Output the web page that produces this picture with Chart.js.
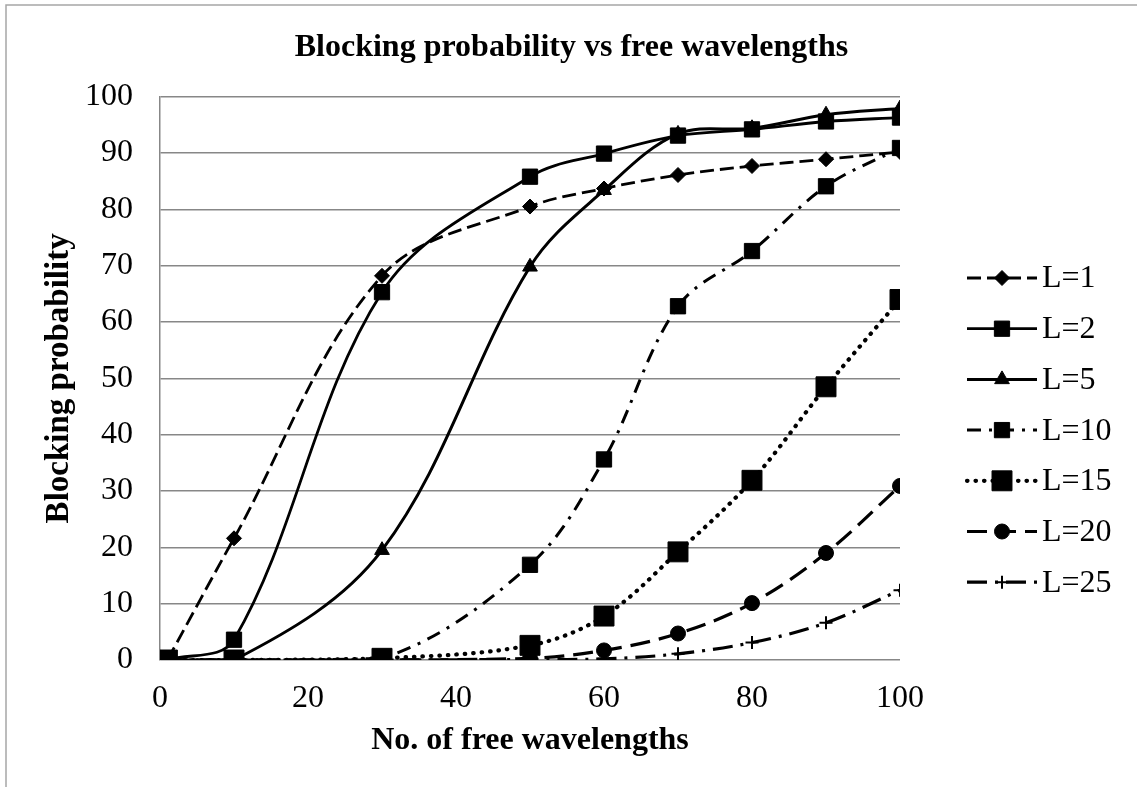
<!DOCTYPE html>
<html>
<head>
<meta charset="utf-8">
<title>Blocking probability vs free wavelengths</title>
<script src="https://cdn.jsdelivr.net/npm/chart.js@4.4.1/dist/chart.umd.min.js"></script>
<style>
  html, body { margin: 0; padding: 0; background: #ffffff; }
  #wrap { position: relative; width: 1137px; height: 787px; }
</style>
</head>
<body>
<div id="wrap"><canvas id="blockingChart"></canvas></div>
<script>
// x values (number of free wavelengths) shared by every series
const freeWavelengths = [1, 10, 30, 50, 60, 70, 80, 90, 100];

// blocking probability for each L
const blockL1  = [0, 21.6, 68.2, 80.5, 83.7, 86.1, 87.7, 88.9, 90.2];
const blockL2  = [0, 3.6, 65.3, 85.8, 89.9, 93.1, 94.2, 95.6, 96.3];
const blockL5  = [0, 0, 19.5, 69.8, 83.4, 93.4, 94.4, 96.8, 97.9];
const blockL10 = [0, 0, 0.3, 16.9, 35.6, 62.8, 72.6, 84.1, 90.9];
const blockL15 = [0, 0, 0.3, 2.6, 7.8, 19.2, 31.9, 48.5, 64.0];
const blockL20 = [0, 0, 0, 0.3, 1.7, 4.7, 10.1, 19.0, 30.9];
const blockL25 = [0, 0, 0, 0.1, 0.2, 1.1, 3.1, 6.6, 12.4];

const seriesLabels = ['L=1', 'L=2', 'L=5', 'L=10', 'L=15', 'L=20', 'L=25'];

// axis tick values
const xTickValues = [0, 20, 40, 60, 80, 100];
const yTickValues = [0, 10, 20, 30, 40, 50, 60, 70, 80, 90, 100];

const SERIF = "'Liberation Serif', 'Times New Roman', serif";
const GRID_GREY = '#878787';
const FONT_SIZE = 32;

function toPoints(ys) {
    return freeWavelengths.map((x, i) => ({ x: x, y: ys[i] }));
}

// line / marker look of each series, in the same order as seriesLabels
const seriesStyles = [
    { data: blockL1,  dash: [14, 6],        width: 2.8, point: 'rectRot',  radius: 7.5 },
    { data: blockL2,  dash: [],             width: 2.8, point: 'rect',     radius: 10.8 },
    { data: blockL5,  dash: [],             width: 3,   point: 'triangle', radius: 8.5 },
    { data: blockL10, dash: [14, 8, 3, 8],  width: 3,   point: 'rect',     radius: 10.8 },
    { data: blockL15, dash: [0.5, 8],       width: 4.2, point: 'rect',     radius: 14.1, cap: 'round' },
    { data: blockL20, dash: [20, 9],        width: 3.2, point: 'circle',   radius: 7.5 },
    { data: blockL25, dash: [20, 8, 3, 8],  width: 3.2, point: 'cross',    radius: 6.5 }
];

const datasets = seriesStyles.map((s, i) => ({
    label: seriesLabels[i],
    data: toPoints(s.data),
    showLine: true,
    borderColor: '#000000',
    backgroundColor: '#000000',
    borderWidth: s.width,
    borderDash: s.dash,
    borderCapStyle: s.cap || 'butt',
    tension: 0.35,
    pointStyle: s.point,
    pointRadius: s.radius,
    pointHoverRadius: s.radius,
    pointBackgroundColor: '#000000',
    pointBorderColor: '#000000',
    pointBorderWidth: s.point === 'cross' ? 2 : 1,
    order: seriesStyles.length - i
}));

// thin grey frame along the top and left edge of the canvas
const framePlugin = {
    id: 'frame',
    beforeDraw(chart) {
        const ctx = chart.ctx;
        ctx.save();
        ctx.strokeStyle = '#a6a6a6';
        ctx.lineWidth = 1.5;
        ctx.beginPath();
        ctx.moveTo(6, chart.height);
        ctx.lineTo(6, 5);
        ctx.lineTo(chart.width, 5);
        ctx.stroke();
        ctx.restore();
    }
};

// legend on the right: line sample with marker, then the label
const sideLegendPlugin = {
    id: 'sideLegend',
    afterDraw(chart) {
        const ctx = chart.ctx;
        const lineStart = chart.chartArea.right + 67;
        const lineEnd = lineStart + 70;
        const textX = lineEnd + 5;
        const firstRow = 278;
        const rowGap = 50.7;
        ctx.save();
        chart.data.datasets.forEach((ds, i) => {
            const y = firstRow + i * rowGap;
            ctx.strokeStyle = ds.borderColor;
            ctx.lineWidth = ds.borderWidth;
            ctx.lineCap = ds.borderCapStyle;
            ctx.setLineDash(ds.borderDash);
            ctx.beginPath();
            ctx.moveTo(lineStart, y);
            ctx.lineTo(lineEnd, y);
            ctx.stroke();
            ctx.setLineDash([]);
            ctx.fillStyle = ds.pointBackgroundColor;
            ctx.lineWidth = ds.pointBorderWidth;
            ctx.lineCap = 'butt';
            Chart.helpers.drawPoint(ctx, {
                pointStyle: ds.pointStyle,
                radius: ds.pointRadius,
                rotation: 0,
                borderWidth: ds.pointBorderWidth
            }, (lineStart + lineEnd) / 2, y);
            ctx.fillStyle = '#000000';
            ctx.font = FONT_SIZE + 'px ' + SERIF;
            ctx.textAlign = 'left';
            ctx.textBaseline = 'middle';
            ctx.fillText(ds.label, textX, y + 1);
        });
        ctx.restore();
    }
};

const ctx = document.getElementById('blockingChart').getContext('2d');
new Chart(ctx, {
    type: 'scatter',
    data: { datasets: datasets },
    plugins: [framePlugin, sideLegendPlugin],
    options: {
        responsive: true,
        maintainAspectRatio: false,
        animation: false,
        events: [],
        layout: { padding: { left: 6, right: 0, top: 0, bottom: 0 } },
        plugins: {
            legend: { display: false },
            tooltip: { enabled: false },
            title: {
                display: true,
                text: 'Blocking probability vs free wavelengths',
                color: '#000000',
                font: { family: SERIF, size: FONT_SIZE, weight: 'bold' },
                padding: { top: 29, bottom: 29.3 }
            }
        },
        scales: {
            x: {
                type: 'linear',
                min: 0,
                max: 100,
                afterBuildTicks: (scale) => { scale.ticks = xTickValues.map(v => ({ value: v })); },
                afterFit: (scale) => { scale.height = 127; },
                grid: { display: false, drawTicks: false },
                border: { display: false },
                ticks: {
                    color: '#000000',
                    padding: 19,
                    maxRotation: 0,
                    font: { family: SERIF, size: FONT_SIZE }
                },
                title: {
                    display: true,
                    text: 'No. of free wavelengths',
                    color: '#000000',
                    font: { family: SERIF, size: FONT_SIZE, weight: 'bold' },
                    padding: { top: 0, bottom: 27 }
                }
            },
            y: {
                type: 'linear',
                min: 0,
                max: 100,
                afterBuildTicks: (scale) => { scale.ticks = yTickValues.map(v => ({ value: v })); },
                afterFit: (scale) => { scale.width = 154; },
                grid: { color: GRID_GREY, lineWidth: 1.5, drawTicks: false },
                border: { display: true, color: GRID_GREY, width: 1.5 },
                ticks: {
                    color: '#000000',
                    padding: 27,
                    font: { family: SERIF, size: FONT_SIZE }
                },
                title: {
                    display: true,
                    text: 'Blocking probability',
                    color: '#000000',
                    font: { family: SERIF, size: 33, weight: 'bold' },
                    padding: { top: 34, bottom: 0 }
                }
            },
            // empty axis that keeps room for the legend on the right
            legendSpace: {
                type: 'linear',
                position: 'right',
                afterFit: (scale) => { scale.width = 237; },
                grid: { display: false, drawTicks: false },
                border: { display: false },
                ticks: { display: false }
            }
        }
    }
});
</script>
</body>
</html>
